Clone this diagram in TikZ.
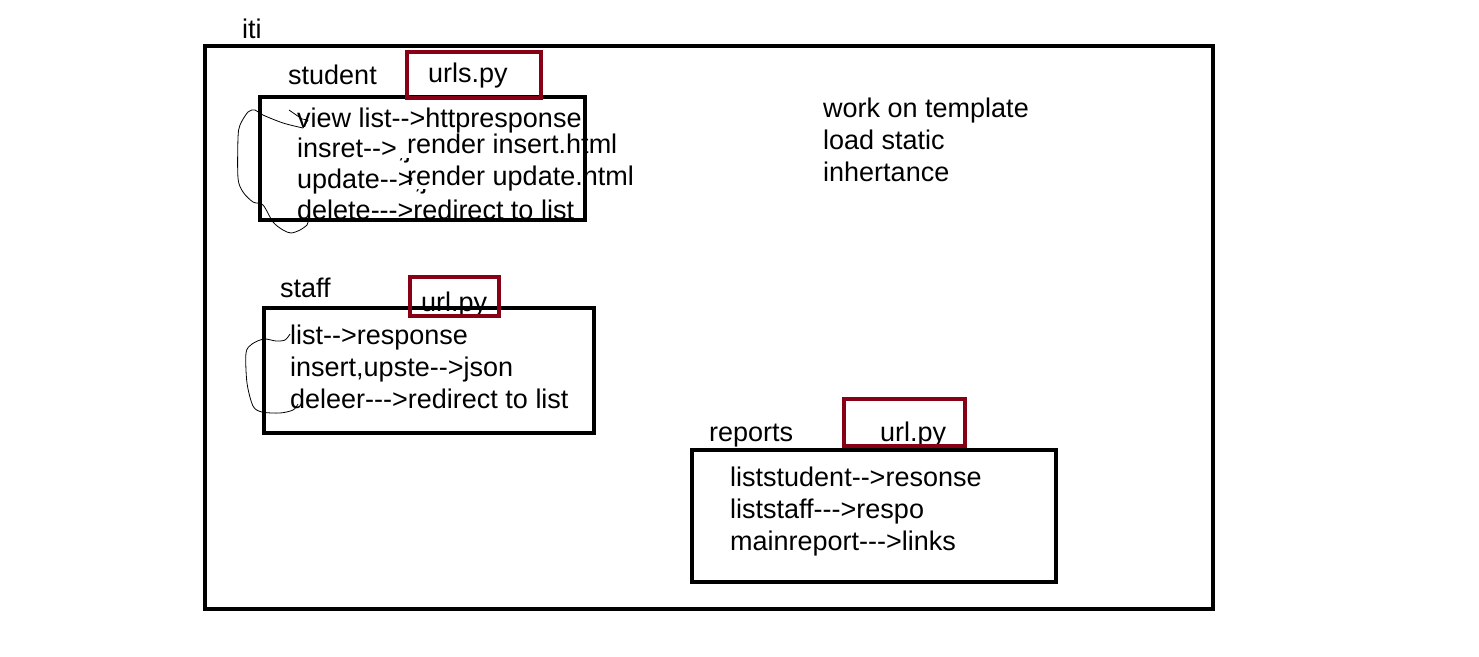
\documentclass[tikz,border=0pt]{standalone}
\usepackage{fontspec}
\setmainfont{Liberation Sans}[Ligatures=TeXOff]
\definecolor{paintred}{RGB}{136,0,21}
\tikzset{
  lbl/.style={anchor=base west, inner sep=0pt, font=\fontsize{27}{31}\selectfont},
  frame/.style={line width=4pt},
  filebox/.style={line width=4pt, draw=paintred},
  scribble/.style={line width=0.8pt, line join=round}
}

\begin{document}
\begin{tikzpicture}[x=1pt, y=-1pt]
	%%%%% START %%%%%
	\useasboundingbox[fill=white] (0, 0) rectangle (1479, 656);
	
	% outer app
	\node[lbl] (iti) at (242, 38) {iti};
	\draw[frame] (205, 46) rectangle (1213, 609);
	
	% student
	\node[lbl] (student) at (288, 84) {student};
	\node[lbl] (urls) at (428, 82) {urls.py};
	\node[lbl] (s1) at (297, 127) {view list-->httpresponse};
	\node[lbl] (s2) at (297, 157) {insret-->};
	\node[lbl] (s3) at (297, 188) {update-->};
	\node[lbl] (s4) at (297, 219) {delete--->redirect to list};
	\begin{scope}
		\clip (380, 158) rectangle (470, 172);
		\node[lbl] at (s2.base east) {,json};
	\end{scope}
	\begin{scope}
		\clip (380, 189) rectangle (470, 203);
		\node[lbl] at (s3.base east) {,json};
	\end{scope}
	\node[lbl] (r1) at (407, 153) {render insert.html};
	\node[lbl] (r2) at (407, 185) {render update.html};
	\draw[frame] (260, 97) rectangle (585, 220);
	\draw[filebox] (407, 52) rectangle (541, 98);
	\draw[scribble] (289, 110) -- (302, 119) -- (308, 120) -- (303, 128);
	\draw[scribble] plot[smooth] coordinates {(303, 128) (283, 123) (263, 115) (255, 110) (248, 112)
		(240, 125) (238, 138) (238, 178) (243, 192) (253, 202) (263, 205) (273, 222) (283, 230)
		(291, 233) (300, 230) (307, 225) (308, 221)};
	
	% staff
	\node[lbl] (staff) at (280, 297) {staff};
	\node[lbl] (urlstaff) at (421, 311) {url.py};
	\node[lbl] (t1) at (290, 344) {list-->response};
	\node[lbl] (t2) at (290, 376) {insert,upste-->json};
	\node[lbl] (t3) at (290, 408) {deleer--->redirect to list};
	\draw[frame] (264, 308) rectangle (594, 433);
	\draw[filebox] (410, 277) rectangle (499, 316);
	\draw[scribble] plot[smooth] coordinates {(290, 334) (285, 340) (276, 341) (264, 339) (252, 344)
		(246, 353) (247, 383) (253, 406) (262, 412) (280, 413) (293, 410) (298, 404)};
	
	% reports
	\node[lbl] (reports) at (709, 441) {reports};
	\node[lbl] (urlrep) at (880, 441) {url.py};
	\node[lbl] (p1) at (730, 486) {liststudent-->resonse};
	\node[lbl] (p2) at (730, 518) {liststaff--->respo};
	\node[lbl] (p3) at (730, 550) {mainreport--->links};
	\draw[frame] (692, 450) rectangle (1056, 582);
	\draw[filebox] (844, 399) rectangle (965, 446);
	
	% notes
	\node[lbl] (n1) at (823, 117) {work on template};
	\node[lbl] (n2) at (823, 149) {load static};
	\node[lbl] (n3) at (823, 181) {inhertance};
	%%%%% END %%%%%
\end{tikzpicture}
\end{document}
